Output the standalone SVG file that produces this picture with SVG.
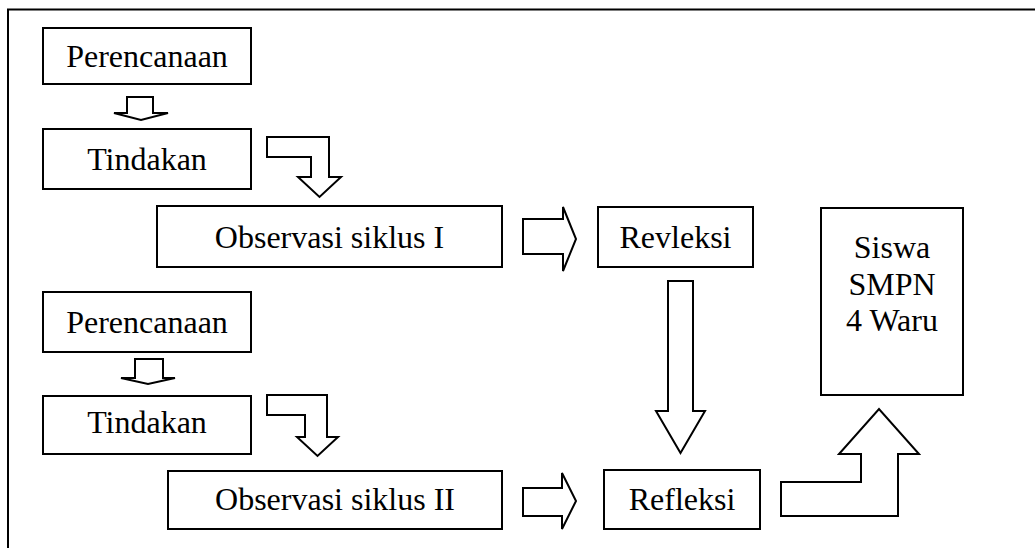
<svg xmlns="http://www.w3.org/2000/svg" width="1035" height="548" viewBox="0 0 1035 548">
<style>
.box{fill:#fff;stroke:#000;stroke-width:2}
.arr{fill:#fff;stroke:#000;stroke-width:2;stroke-linejoin:miter}
.t{font-family:"Liberation Serif","Times New Roman",serif;font-size:32px;fill:#000;text-anchor:middle}
</style>
<rect width="1035" height="548" fill="#fff"/>
<g id="frame">
<path d="M8,548 V9.5 H1035" fill="none" stroke="#000" stroke-width="2"/>
</g>
<g id="connectors">
<polygon class="arr" points="127,97 153,97 153,113 168,113 141,120 114,113 127,113"/>
<polygon class="arr" points="267,137 329,137 329,177 341,177 319.5,197 298,177 311,177 311,157 267,157"/>
<polygon class="arr" points="523,219 563,219 563,207 576,239 563,271 563,254 523,254"/>
<polygon class="arr" points="668,281 693,281 693,411 705,411 680.5,453 656,411 668,411"/>
<polygon class="arr" points="135,359 163,359 163,378 175,378 148,384 121,378 135,378"/>
<polygon class="arr" points="267,395 327,395 327,437 338,437 317.5,456 297,437 305,437 305,415 267,415"/>
<polygon class="arr" points="523,488 562,488 562,473 576,501 562,529 562,516 523,516"/>
<polygon class="arr" points="781,482 861,482 861,454 839,454 879,409 919,454 898,454 898,516 781,516"/>
</g>
<g id="perencanaan1"><rect class="box" x="43" y="28" width="208" height="56"/><text class="t" x="147" y="67">Perencanaan</text></g>
<g id="tindakan1"><rect class="box" x="43" y="129" width="208" height="60"/><text class="t" x="147" y="170">Tindakan</text></g>
<g id="observasi1"><rect class="box" x="157" y="206" width="345" height="61"/><text class="t" x="329.5" y="248">Observasi siklus I</text></g>
<g id="revleksi"><rect class="box" x="598" y="207" width="155" height="60"/><text class="t" x="675.5" y="248">Revleksi</text></g>
<g id="siswa"><rect class="box" x="821" y="208" width="142" height="187"/>
<text class="t" x="892" y="258">Siswa</text><text class="t" x="892" y="295">SMPN</text><text class="t" x="892" y="331">4 Waru</text></g>
<g id="perencanaan2"><rect class="box" x="43" y="292" width="208" height="60"/><text class="t" x="147" y="333">Perencanaan</text></g>
<g id="tindakan2"><rect class="box" x="43" y="396" width="208" height="58"/><text class="t" x="147" y="433">Tindakan</text></g>
<g id="observasi2"><rect class="box" x="168" y="471" width="334" height="58"/><text class="t" x="335" y="510">Observasi siklus II</text></g>
<g id="refleksi"><rect class="box" x="604" y="470" width="156" height="59"/><text class="t" x="682" y="510">Refleksi</text></g>
</svg>
